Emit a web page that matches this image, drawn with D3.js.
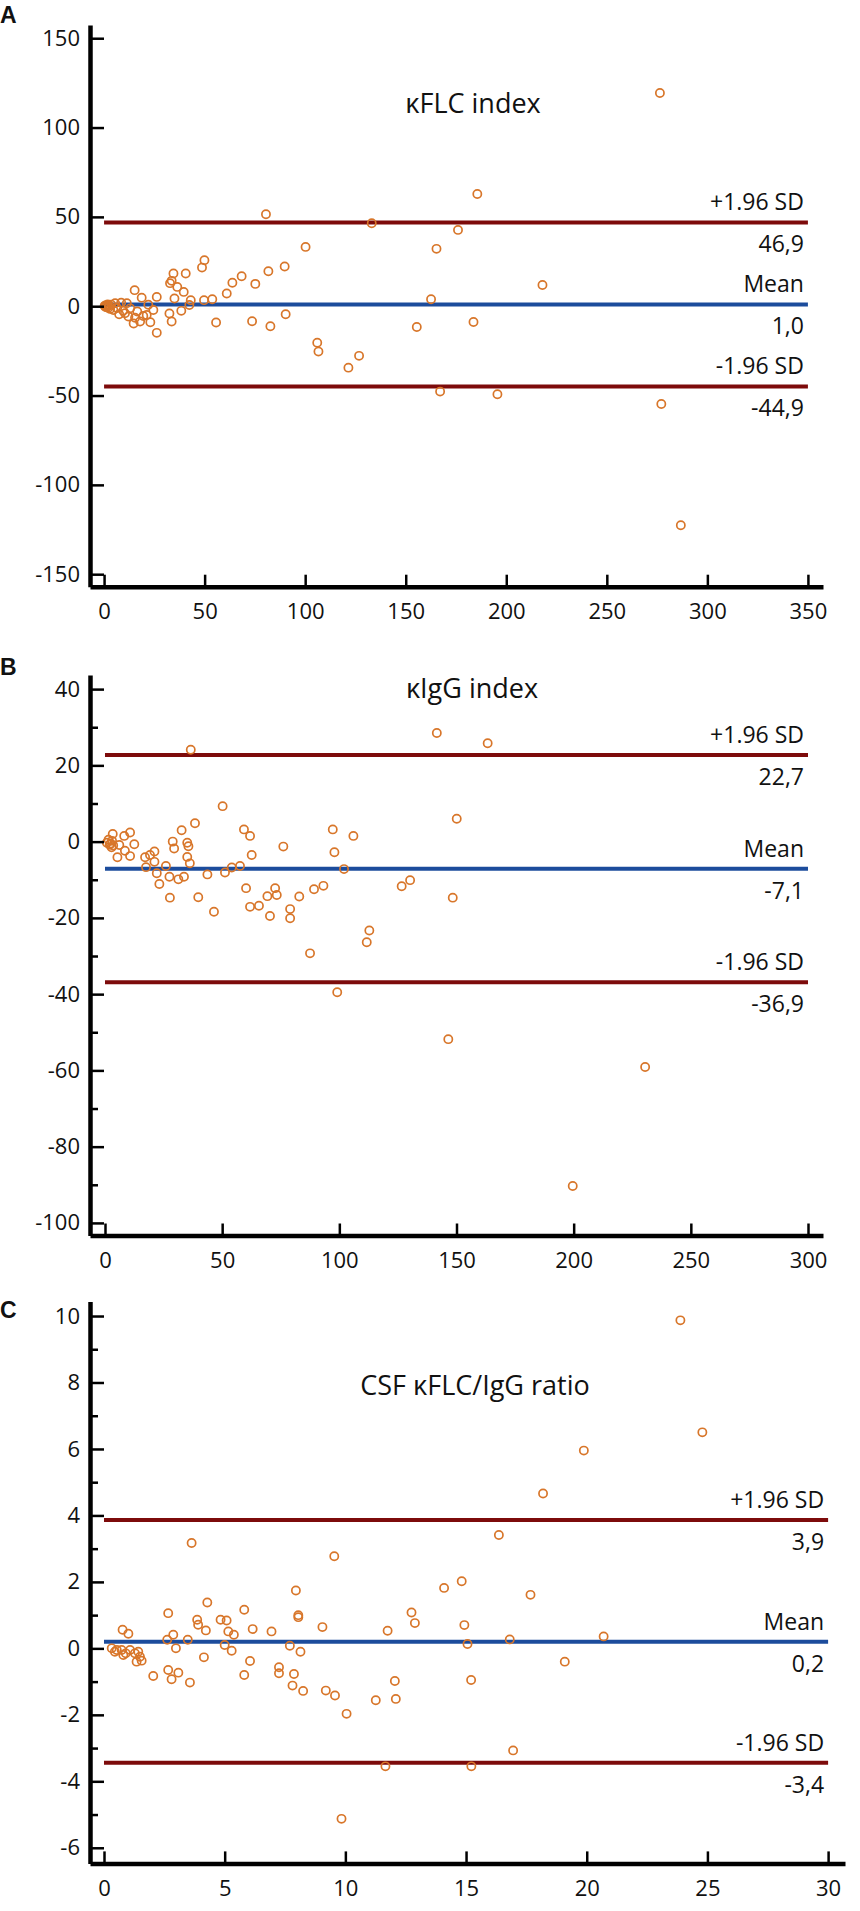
<!DOCTYPE html>
<html lang="en">
<head>
    <meta charset="UTF-8">
    <title>Bland-Altman plots</title>
    <script src="https://d3js.org/d3.v7.min.js"></script>
    <style>
        body { margin: 0; background: #fff; }
        text { font-family: "Open Sans", "Noto Sans", sans-serif; fill: #111; }
        .axis path, .axis line { stroke: #000; }
        .axis .domain { stroke-width: 4.5px; }
        .axis .tick line { stroke-width: 2.5px; }
    </style>
</head>
<body>
    <script>
        // panel A: kFLC index (mean, difference)
        const aMean = [0.3, 0.6, 0.9, 1.2, 1.5, 1.8, 2.2, 2.6, 3.0, 3.5, 4.6, 5.5, 6.5, 7.5, 8.5, 9.5, 10.4, 11.3, 12.1, 13.0,
            14.7, 15.2, 15.4, 16.5, 17.9, 18.7, 19.5, 21.2, 22.0, 23.0, 24.5, 26.2, 26.2, 32.5, 32.8, 33.6, 33.6, 34.5, 35.0, 36.4,
            38.4, 39.6, 40.6, 42.4, 43.1, 48.7, 49.9, 49.7, 53.8, 55.7, 61.0, 63.8, 68.4, 73.6, 75.2, 80.5, 81.7, 82.7, 89.8, 90.3,
            100.2, 106.0, 106.6, 121.5, 126.8, 133.1, 155.5, 162.6, 165.3, 167.1, 176.0, 183.7, 185.6, 195.6, 218.0, 276.4, 277.1, 286.8];
        const aDiff = [0.2, -0.3, 0.5, -0.6, 0.1, 1.0, -0.8, 0.4, -1.5, 0.9, -2.1, 1.7, -1.0, -4.5, 2.0, -2.5, -3.9, 1.7, -5.8, -1.2,
            -9.7, 9.0, -6.5, -3.0, -8.6, 4.8, -5.5, -4.9, 0.8, -9.0, -2.1, 5.2, -14.9, -4.1, 12.9, 14.2, -8.6, 18.3, 4.3, 10.8,
            -2.6, 8.0, 18.3, 0.7, 3.4, 21.6, 25.7, 3.4, 3.9, -9.1, 7.1, 13.1, 16.8, -8.4, 12.5, 51.5, 19.6, -11.2, 22.2, -4.5,
            33.2, -20.4, -25.4, -34.4, -27.8, 46.4, -11.6, 3.9, 32.1, -47.8, 42.7, -8.8, 62.8, -49.3, 11.9, 119.3, -54.7, -122.6];
        const aLimits = [46.9, 1.0, -44.9];

        // panel B: kIgG index
        const bMean = [0.8, 1.5, 2.0, 2.4, 3.0, 3.5, 2.8, 3.3, 5.3, 6.1, 8.2, 8.5, 10.7, 10.7, 12.5, 17.1, 17.5, 19.2, 21.1, 21.1,
            22.1, 23.2, 26.0, 27.5, 27.7, 28.9, 29.5, 31.3, 32.7, 33.7, 35.1, 35.6, 35.1, 36.2, 36.6, 38.4, 39.8, 43.7, 46.5, 50.2,
            51.2, 54.1, 57.6, 59.3, 60.2, 61.9, 61.9, 62.6, 65.7, 69.3, 70.4, 72.6, 73.3, 76.1, 79.0, 79.0, 82.9, 87.5, 89.2, 93.2,
            97.2, 97.9, 99.1, 102.0, 106.0, 111.7, 112.8, 126.6, 130.2, 141.6, 146.5, 148.4, 150.1, 163.3, 199.6, 230.5];
        const bDiff = [-0.3, 0.5, -0.8, -0.5, 0.2, -1.0, -1.5, 2.0, -4.1, -0.9, 1.5, -2.4, 2.4, -3.8, -0.7, -4.1, -6.7, -3.5, -2.6, -5.3,
            -8.3, -11.1, -6.4, -9.2, -14.7, 0.0, -1.8, -9.9, 3.0, -9.2, -0.3, -1.2, -4.0, -5.7, 24.1, 4.8, -14.6, -8.6, -18.4, 9.3,
            -8.1, -6.8, -6.4, 3.2, -12.2, 1.5, -17.1, -3.5, -16.8, -14.3, -19.5, -12.2, -14.0, -1.3, -17.7, -20.1, -14.4, -29.3, -12.5, -11.6,
            3.2, -2.8, -39.5, -7.2, 1.5, -26.4, -23.3, -11.7, -10.1, 28.5, -51.8, -14.7, 6.0, 25.8, -90.3, -59.1];
        const bLimits = [22.7, -7.1, -36.9];

        // panel C: CSF kFLC/IgG ratio
        const cMean = [0.32, 0.53, 0.73, 0.8, 1.08, 1.28, 1.42, 1.49, 1.35, 1.56, 0.45, 0.9, 0.77, 1.01, 2.04, 2.62, 2.66, 2.66, 2.8, 2.87,
            2.98, 3.08, 3.47, 3.56, 3.63, 3.86, 3.9, 4.14, 4.22, 4.28, 4.83, 5.0, 5.08, 5.15, 5.29, 5.38, 5.81, 5.81, 6.05, 6.16,
            6.94, 7.25, 7.25, 7.7, 7.81, 7.87, 7.95, 8.05, 8.05, 8.14, 8.25, 9.05, 9.19, 9.54, 9.57, 9.84, 10.05, 11.26, 11.66, 11.75,
            12.05, 12.09, 12.74, 12.88, 14.09, 14.82, 14.93, 15.06, 15.21, 15.22, 16.36, 16.81, 16.95, 17.67, 18.19, 19.09, 19.88, 20.7, 23.88, 24.79];
        const cDiff = [0.0, -0.05, -0.05, -0.2, -0.05, -0.15, -0.1, -0.25, -0.4, -0.37, -0.1, -0.15, 0.56, 0.44, -0.83, 0.26, 1.06, -0.65, -0.93, 0.41,
            0.0, -0.73, 0.26, -1.03, 3.17, 0.86, 0.71, -0.27, 0.54, 1.38, 0.86, 0.1, 0.84, 0.51, -0.07, 0.41, 1.16, -0.8, -0.38, 0.58,
            0.51, -0.57, -0.75, 0.08, -1.12, -0.77, 1.74, 1.0, 0.94, -0.1, -1.28, 0.64, -1.27, 2.77, -1.42, -5.13, -1.97, -1.56, -3.55, 0.53,
            -0.98, -1.52, 1.08, 0.76, 1.82, 2.02, 0.7, 0.13, -0.95, -3.55, 3.41, 0.27, -3.07, 1.61, 4.66, -0.4, 5.95, 0.36, 9.87, 6.5];
        const cLimits = [3.86, 0.2, -3.44];

        const limitNames = ["+1.96 SD", "Mean", "-1.96 SD"];
        const hyphen = s => s.replace("\u2212", "-");
        const comma = v => hyphen(d3.format(".1f")(v)).replace(".", ",");
        const tickFmt = v => hyphen(d3.format("d")(v));

        const panels = [
            { letter: "A", title: "κFLC index", mean: aMean, diff: aDiff, limits: aLimits,
              xDomain: [-7, 357.5], xMax: 350, xTicks: d3.range(0, 351, 50), xRight: 823,
              yDomain: [-157, 157.4], yTicks: d3.range(-150, 151, 50), yMinor: null,
              top: 25, bottom: 586.7, titleX: 473, titleY: 113, letterY: 23 },
            { letter: "B", title: "κIgG index", mean: bMean, diff: bDiff, limits: bLimits,
              xDomain: [-6.4, 306.4], xMax: 300, xTicks: d3.range(0, 301, 50), xRight: 823,
              yDomain: [-103.3, 43.7], yTicks: d3.range(-100, 41, 20), yMinor: d3.range(-90, 41, 20),
              top: 675, bottom: 1235.5, titleX: 472, titleY: 698, letterY: 675 },
            { letter: "C", title: "CSF κFLC/IgG ratio", mean: cMean, diff: cDiff, limits: cLimits,
              xDomain: [-0.58, 30.7], xMax: 30, xTicks: d3.range(0, 31, 5), xRight: 845,
              yDomain: [-6.47, 10.44], yTicks: d3.range(-6, 11, 2), yMinor: d3.range(-5, 11, 2),
              top: 1301.4, bottom: 1863.4, titleX: 475, titleY: 1395, letterY: 1318 }
        ];

        const width = 860, height = 1911, left = 90;
        const limitColors = ["#7d0b0b", "#1c4c9c", "#7d0b0b"];

        const svg = d3.select("body").append("svg")
            .attr("width", width)
            .attr("height", height);

        panels.forEach(p => {
            const x = d3.scaleLinear().domain(p.xDomain).range([left, p.xRight]);
            const y = d3.scaleLinear().domain(p.yDomain).range([p.bottom, p.top]);
            const g = svg.append("g");

            // limit lines and labels
            p.limits.forEach((v, i) => {
                g.append("line")
                    .attr("x1", x(0)).attr("x2", x(p.xMax))
                    .attr("y1", y(v)).attr("y2", y(v))
                    .attr("stroke", limitColors[i])
                    .attr("stroke-width", 4);
                g.append("text")
                    .attr("x", x(p.xMax) - 4)
                    .attr("y", y(v) - 12)
                    .attr("text-anchor", "end")
                    .attr("font-size", 23)
                    .text(limitNames[i]);
                g.append("text")
                    .attr("x", x(p.xMax) - 4)
                    .attr("y", y(v) + 30)
                    .attr("text-anchor", "end")
                    .attr("font-size", 23)
                    .text(comma(v));
            });

            // points
            g.append("g")
                .selectAll("circle")
                .data(p.mean.map((m, i) => [m, p.diff[i]]))
                .enter().append("circle")
                .attr("cx", d => x(d[0]))
                .attr("cy", d => y(d[1]))
                .attr("r", 4.1)
                .attr("fill", "none")
                .attr("stroke", "#d8762a")
                .attr("stroke-width", 1.7);

            // axes
            if (p.yMinor) {
                g.append("g")
                    .attr("class", "axis")
                    .attr("transform", `translate(${left},0)`)
                    .call(d3.axisLeft(y).tickValues(p.yMinor).tickSize(-8).tickSizeOuter(0).tickFormat(""))
                    .select(".domain").remove();
            }
            g.append("g")
                .attr("class", "axis")
                .attr("transform", `translate(${left},0)`)
                .call(d3.axisLeft(y).tickValues(p.yTicks).tickSize(-14).tickSizeOuter(0).tickPadding(10).tickFormat(tickFmt))
                .call(a => a.selectAll("text").attr("font-size", 22).style("font-family", "'Open Sans', sans-serif").attr("fill", "#111"));

            g.append("g")
                .attr("class", "axis")
                .attr("transform", `translate(0,${p.bottom})`)
                .call(d3.axisBottom(x).tickValues(p.xTicks).tickSize(-12).tickSizeOuter(0).tickPadding(17).tickFormat(tickFmt))
                .call(a => a.selectAll("text").attr("font-size", 22).style("font-family", "'Open Sans', sans-serif").attr("fill", "#111"));

            // title and panel letter
            g.append("text")
                .attr("x", p.titleX)
                .attr("y", p.titleY)
                .attr("text-anchor", "middle")
                .attr("font-size", 27)
                .text(p.title);

            g.append("text")
                .attr("x", 0)
                .attr("y", p.letterY)
                .attr("font-size", 23)
                .attr("font-weight", "bold")
                .style("font-family", "'Liberation Sans', Arial, sans-serif")
                .text(p.letter);
        });
    </script>
</body>
</html>
